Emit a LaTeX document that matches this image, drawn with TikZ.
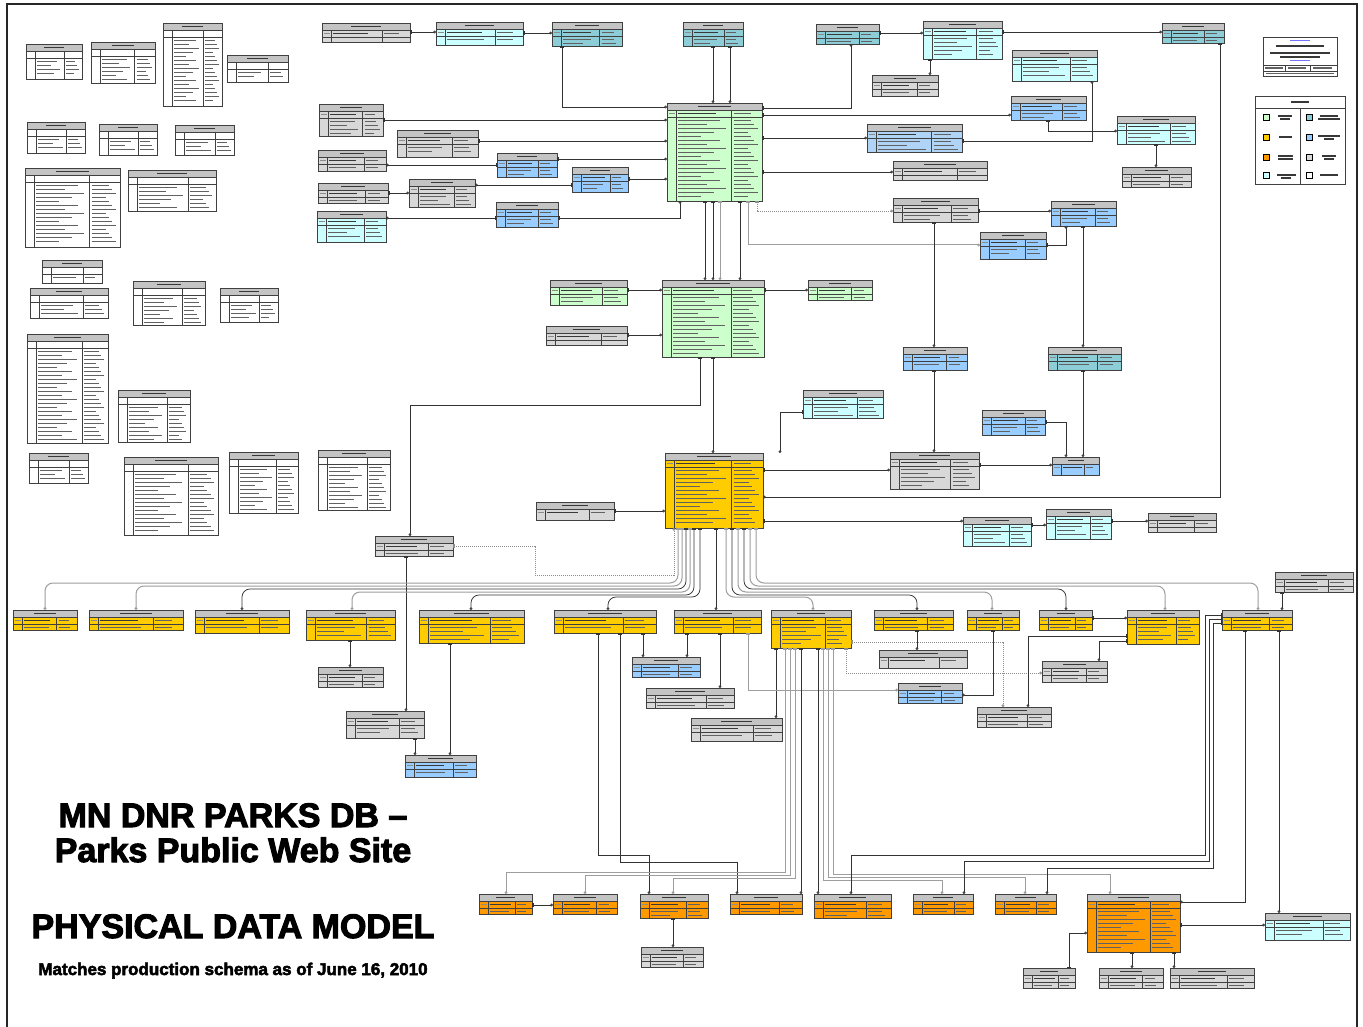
\documentclass[tikz,border=0pt]{standalone}
\usepackage{fontspec}
\setmainfont{Liberation Sans}
\newfontfamily\heavyfont{Liberation Sans}[BoldFeatures={FakeBold=3}]
\usetikzlibrary{arrows.meta}
\definecolor{chdr}{RGB}{196,196,196}
\definecolor{cgray}{RGB}{216,216,216}
\definecolor{cgreen}{RGB}{204,255,204}
\definecolor{cyel}{RGB}{255,204,0}
\definecolor{corg}{RGB}{255,153,0}
\definecolor{ccyan}{RGB}{204,255,255}
\definecolor{cteal}{RGB}{140,205,215}
\definecolor{cblue}{RGB}{153,204,255}
\definecolor{cbluel}{RGB}{175,212,245}
\tikzset{
  tab/.style={draw=black!75, line width=0.8pt, inner sep=0pt, outer sep=0pt},
  inl/.style={draw=black!75, line width=0.6pt},
  txt/.style={draw=black!62, line width=1.25pt},
  txtb/.style={draw=black!78, line width=1.25pt},
  txtk/.style={draw=black!45, line width=1pt},
  rel/.style={draw=black!80, line width=0.75pt, {Rectangle[length=1.5pt,width=3.5pt]}-{Circle[open,length=2.8pt]}},
  relg/.style={draw=black!38, line width=1pt, {Rectangle[length=1.5pt,width=3.5pt]}-{Circle[open,length=2.8pt]}},
  reld/.style={draw=black!45, line width=0.8pt, dash pattern=on 1pt off 1pt, {Rectangle[length=1.5pt,width=3.5pt]}-{Circle[open,length=2.8pt]}},
  frameline/.style={draw=black!85, line width=1.6pt},
  lgbox/.style={draw=black, line width=0.6pt, minimum size=6pt, inner sep=0pt}
}
\newcommand\ertab[7]{%
 \pgfmathsetmacro\erX{#2}%
 \pgfmathsetmacro\erY{#3}%
 \pgfmathsetmacro\erW{#4}%
 \pgfmathsetmacro\erH{#5}%
 \pgfmathsetmacro\erC{#2+0.68*#4}%
 \pgfmathtruncatemacro\erN{max(0,floor((#5-16)/4))}%
 \node[tab, fill=#6, anchor=north west, minimum width=#4pt, minimum height=#5pt] (#1) at (#2,#3) {};%
 \fill[chdr] (\erX,\erY) rectangle (\erX+\erW,\erY+7);%
 \draw[txtb] (\erX+0.33*\erW,\erY+3.6) -- (\erX+0.67*\erW,\erY+3.6);%
 \draw[inl] (\erX,\erY+7) -- (\erX+\erW,\erY+7);%
 \ifdim #5pt>18pt \draw[inl] (\erX,\erY+14) -- (\erX+\erW,\erY+14);\fi
 \draw[inl] (\erX+9,\erY+7) -- (\erX+9,\erY+\erH);%
 \draw[inl] (\erC,\erY+7) -- (\erC,\erY+\erH);%
 \ifnum#7=1 \draw[txtb] (\erX+11,\erY+10.5) -- (\erX+11+0.4*\erW,\erY+10.5);\draw[txtk] (\erX+1.5,\erY+10.5) -- (\erX+7.5,\erY+10.5);\draw[txt] (\erC+2,\erY+10.5) -- (\erC+0.2*\erW,\erY+10.5);\fi
 \ifnum\erN>0
 \foreach \i in {1,...,\erN}{%
   \pgfmathsetmacro\erL{(0.68*\erW-13)*(0.45+0.12*mod(3*\i,5))}%
   \pgfmathsetmacro\erM{(0.32*\erW-4)*(0.55+0.12*mod(\i,4))}%
   \draw[txt] (\erX+11,\erY+13.6+4*\i) -- ++(\erL,0);%
   \draw[txt] (\erC+2,\erY+13.6+4*\i) -- ++(\erM,0);%
 }\fi
 \draw[tab] (\erX,\erY) rectangle (\erX+\erW,\erY+\erH);%
}
\begin{document}
\begin{tikzpicture}[x=1pt,y=-1pt]
\useasboundingbox (0,0) rectangle (1363,1027);
\fill[white] (0,0) rectangle (1363,1027);
\draw[frameline] (7,1027) -- (7,4) -- (1357,4) -- (1357,1027);

% ---------- left column of code tables ----------
\ertab{w1}{26}{44}{56}{35}{white}{0}
\ertab{w2}{91}{42}{64}{41}{white}{0}
\ertab{w3}{163}{23}{59}{83}{white}{0}
\ertab{w4}{227}{55}{61}{27}{white}{0}
\ertab{w5}{27}{122}{58}{31}{white}{0}
\ertab{w6}{99}{124}{58}{31}{white}{0}
\ertab{w7}{175}{125}{59}{30}{white}{0}
\ertab{w8}{25}{168}{95}{79}{white}{0}
\ertab{w9}{128}{170}{88}{41}{white}{0}
\ertab{w10}{42}{260}{60}{23}{white}{0}
\ertab{w11}{30}{288}{78}{30}{white}{0}
\ertab{w12}{133}{281}{72}{44}{white}{0}
\ertab{w13}{220}{288}{58}{34}{white}{0}
\ertab{w14}{27}{334}{81}{109}{white}{0}
\ertab{w15}{118}{390}{72}{52}{white}{0}
\ertab{w16}{29}{453}{59}{30}{white}{0}
\ertab{w17}{124}{457}{94}{78}{white}{0}
\ertab{w18}{229}{452}{69}{61}{white}{0}
\ertab{w19}{318}{450}{72}{60}{white}{0}

% ---------- top middle ----------
\ertab{eft}{322}{23}{88}{19}{cgray}{1}
\ertab{ef}{436}{22}{87}{23}{ccyan}{1}
\ertab{puxef}{552}{22}{70}{24}{cteal}{1}
\ertab{puxpu}{683}{22}{60}{24}{cteal}{1}
\ertab{pu}{667}{103}{95}{98}{cgreen}{1}
\ertab{county}{319}{104}{64}{32}{cgray}{1}
\ertab{tour}{397}{130}{81}{27}{cgray}{1}
\ertab{fiscal}{318}{150}{68}{21}{cgray}{1}
\ertab{puxfis}{497}{153}{60}{24}{cblue}{1}
\ertab{puxsp}{572}{167}{56}{25}{cblue}{1}
\ertab{sptype}{318}{183}{70}{20}{cgray}{1}
\ertab{species}{409}{179}{66}{28}{cgray}{1}
\ertab{puxtt}{496}{202}{62}{25}{cblue}{1}
\ertab{monitor}{317}{211}{69}{31}{ccyan}{1}

% ---------- top right ----------
\ertab{puxgis}{816}{24}{63}{20}{cteal}{1}
\ertab{dimg}{923}{21}{79}{38}{ccyan}{1}
\ertab{imgtype}{872}{75}{66}{21}{cgray}{1}
\ertab{imgxam}{1162}{23}{62}{20}{cteal}{1}
\ertab{receq}{1012}{50}{85}{31}{ccyan}{1}
\ertab{puxleg}{1011}{96}{75}{24}{cblue}{1}
\ertab{puxrec}{867}{124}{95}{28}{cbluel}{1}
\ertab{legd}{1117}{116}{78}{28}{ccyan}{1}
\ertab{disttype}{1122}{167}{69}{20}{cgray}{1}
\ertab{water}{893}{161}{94}{19}{cgray}{1}
\ertab{putype}{893}{198}{85}{24}{cgray}{1}
\ertab{pufbr}{1051}{201}{65}{25}{cblue}{1}
\ertab{puft}{980}{232}{66}{27}{cblue}{1}

% ---------- middle ----------
\ertab{pra}{662}{280}{102}{77}{cgreen}{1}
\ertab{pral}{550}{280}{77}{25}{cgreen}{1}
\ertab{prar}{808}{280}{64}{20}{cgreen}{1}
\ertab{seas}{546}{326}{81}{19}{cgray}{1}
\ertab{puxrule}{903}{347}{64}{23}{cblue}{1}
\ertab{tealm}{1048}{347}{73}{23}{cteal}{1}
\ertab{cyanm}{803}{390}{80}{28}{ccyan}{1}
\ertab{bluem}{982}{410}{63}{25}{cblue}{1}
\ertab{am}{665}{453}{98}{75}{cyel}{1}
\ertab{amtype}{890}{452}{89}{37}{cgray}{1}
\ertab{blueam}{1052}{457}{47}{18}{cblue}{1}
\ertab{cyan1}{963}{517}{68}{29}{ccyan}{1}
\ertab{cyan2}{1046}{509}{65}{30}{ccyan}{1}
\ertab{gray1}{1148}{513}{68}{19}{cgray}{1}
\ertab{poll}{536}{502}{78}{18}{cgray}{1}
\ertab{seasav}{375}{536}{78}{20}{cgray}{1}

% ---------- amenity row ----------
\ertab{y1}{13}{610}{64}{20}{cyel}{1}
\ertab{y2}{89}{610}{94}{20}{cyel}{1}
\ertab{y3}{195}{610}{94}{23}{cyel}{1}
\ertab{y4}{306}{610}{89}{30}{cyel}{1}
\ertab{y5}{419}{610}{105}{33}{cyel}{1}
\ertab{y6}{554}{610}{102}{23}{cyel}{1}
\ertab{y7}{674}{610}{87}{23}{cyel}{1}
\ertab{y8}{771}{610}{80}{38}{cyel}{1}
\ertab{y9}{874}{610}{79}{20}{cyel}{1}
\ertab{y10}{967}{610}{52}{20}{cyel}{1}
\ertab{y11}{1039}{610}{53}{20}{cyel}{1}
\ertab{y12}{1127}{610}{72}{34}{cyel}{1}
\ertab{y13}{1222}{610}{70}{20}{cyel}{1}
\ertab{cgtype}{1275}{572}{78}{20}{cgray}{1}

% ---------- below amenity row ----------
\ertab{tourtype}{318}{667}{65}{20}{cgray}{1}
\ertab{trailuse}{346}{711}{78}{27}{cgray}{1}
\ertab{trailx}{405}{755}{71}{22}{cblue}{1}
\ertab{b1}{632}{657}{68}{20}{cblue}{1}
\ertab{g1}{646}{688}{88}{20}{cgray}{1}
\ertab{g2}{691}{718}{91}{23}{cgray}{1}
\ertab{g3}{879}{650}{88}{18}{cgray}{1}
\ertab{b2}{898}{683}{64}{20}{cblue}{1}
\ertab{g4}{1042}{661}{65}{21}{cgray}{1}
\ertab{g5}{977}{707}{74}{20}{cgray}{1}

% ---------- bottom row ----------
\ertab{o1}{479}{894}{53}{20}{corg}{1}
\ertab{o2}{553}{894}{64}{20}{corg}{1}
\ertab{o3}{640}{894}{68}{24}{corg}{1}
\ertab{o4}{730}{894}{72}{20}{corg}{1}
\ertab{o5}{814}{894}{77}{24}{corg}{1}
\ertab{o6}{913}{894}{60}{20}{corg}{1}
\ertab{o7}{995}{894}{61}{20}{corg}{1}
\ertab{camp}{1087}{894}{93}{58}{corg}{1}
\ertab{g6}{641}{947}{62}{20}{cgray}{1}
\ertab{cgsec}{1265}{913}{85}{27}{ccyan}{1}
\ertab{g7}{1023}{968}{52}{20}{cgray}{1}
\ertab{spur}{1099}{968}{64}{20}{cgray}{1}
\ertab{cts}{1170}{968}{84}{20}{cgray}{1}

% ---------- info box and legend ----------
\node[tab, fill=white, anchor=north west, minimum width=74pt, minimum height=39pt] (info) at (1263,37) {};
\draw[draw=blue!55, line width=1pt] (1290,41) -- (1310,41);
\draw[txtb] (1276,46) -- (1324,46);
\draw[txtb] (1270,53) -- (1330,53);
\draw[txtb] (1280,57) -- (1320,57);
\draw[draw=blue!55, line width=1pt] (1290,61) -- (1310,61);
\draw[inl] (1263,65) -- (1337,65);
\draw[inl] (1263,71) -- (1337,71);
\draw[inl] (1285,65) -- (1285,71);
\draw[inl] (1310,65) -- (1310,71);
\draw[txt] (1265,68) -- (1283,68);
\draw[txt] (1288,68) -- (1306,68);
\draw[txt] (1313,68) -- (1332,68);
\draw[txt] (1266,73.5) -- (1334,73.5);

\node[tab, fill=white, anchor=north west, minimum width=90pt, minimum height=88pt] (legend) at (1255,96) {};
\draw[inl] (1255,108) -- (1345,108);
\draw[inl] (1300,108) -- (1300,184);
\draw[txtb] (1291,102) -- (1309,102);
\node[lgbox, fill=cgreen] (lg1) at (1266,117) {};
\node[lgbox, fill=cyel] (lg2) at (1266,137) {};
\node[lgbox, fill=corg] (lg3) at (1266,157) {};
\node[lgbox, fill=ccyan] (lg4) at (1266,175) {};
\node[lgbox, fill=cteal] (lg5) at (1309,117) {};
\node[lgbox, fill=cblue] (lg6) at (1309,137) {};
\node[lgbox, fill=cgray] (lg7) at (1309,157) {};
\node[lgbox, fill=white] (lg8) at (1309,175) {};
\draw[txtb] (1278,116) -- (1292,116); \draw[txtb] (1280,119) -- (1290,119);
\draw[txtb] (1279,137) -- (1292,137);
\draw[txtb] (1278,156) -- (1293,156); \draw[txtb] (1278,159) -- (1293,159);
\draw[txtb] (1277,175) -- (1296,175); \draw[txtb] (1281,178) -- (1291,178);
\draw[txtb] (1320,116) -- (1338,116); \draw[txtb] (1318,119) -- (1340,119);
\draw[txtb] (1318,136) -- (1340,136); \draw[txtb] (1324,139) -- (1334,139);
\draw[txtb] (1322,156) -- (1336,156); \draw[txtb] (1324,159) -- (1334,159);
\draw[txtb] (1320,175) -- (1338,175);

% ---------- title ----------
\node[anchor=base, font=\heavyfont\bfseries\fontsize{34}{40}\selectfont] (t1) at (233,827) {MN DNR PARKS DB –};
\node[anchor=base, font=\heavyfont\bfseries\fontsize{34}{40}\selectfont] (t2) at (233,862) {Parks Public Web Site};
\node[anchor=base, font=\heavyfont\bfseries\fontsize{34}{40}\selectfont] (t3) at (233,938) {PHYSICAL DATA MODEL};
\node[anchor=base, font=\heavyfont\bfseries\fontsize{17}{20}\selectfont] (t4) at (233,975) {Matches production schema as of June 16, 2010};

% ---------- connectors: top ----------
\draw[rel] (eft.east |- 0,32) -- (ef.west |- 0,32);
\draw[rel] (ef.east |- 0,33) -- (puxef.west |- 0,33);
\draw[rel] (puxef.south -| 562,0) |- (pu.west |- 0,107);
\draw[rel] (puxpu.south -| 713,0) -- (pu.north -| 713,0);
\draw[rel] (puxpu.south -| 730,0) -- (pu.north -| 730,0);
\draw[rel] (county.east |- 0,120) -- (pu.west |- 0,120);
\draw[rel] (tour.east |- 0,141) -- (pu.west |- 0,141);
\draw[rel] (puxfis.east |- 0,159) -- (pu.west |- 0,159);
\draw[rel] (puxfis.west |- 0,165) -- (fiscal.east |- 0,165);
\draw[rel] (sptype.east |- 0,193) -- (species.west |- 0,193);
\draw[rel] (puxsp.west |- 0,185) -- (species.east |- 0,185);
\draw[rel] (puxsp.east |- 0,179) -- (pu.west |- 0,179);
\draw[rel] (puxtt.west |- 0,218) -- (monitor.east |- 0,218);
\draw[rel] (puxtt.east |- 0,218) -| (pu.south -| 680,0);
\draw[rel] (pu.east |- 0,108) -| (puxgis.south -| 851,0);
\draw[rel] (pu.east |- 0,115) -- (puxleg.west |- 0,115);
\draw[rel] (pu.east |- 0,138) -- (puxrec.west |- 0,138);
\draw[rel] (puxrec.east |- 0,141) -| (receq.south -| 1092,0);
\draw[rel] (puxleg.south -| 1048,0) |- (legd.west |- 0,131);
\draw[rel] (legd.south -| 1156,0) -- (disttype.north -| 1156,0);
\draw[rel] (puxgis.east |- 0,33) -- (dimg.west |- 0,33);
\draw[rel] (dimg.south -| 930,0) -- (imgtype.north -| 930,0);
\draw[rel] (dimg.east |- 0,32) -- (imgxam.west |- 0,32);
\draw[rel] (imgxam.south -| 1220,0) |- (am.east |- 0,497);
\draw[rel] (pu.east |- 0,172) -- (water.west |- 0,172);
\draw[reld] (pu.south -| 757,0) |- (putype.west |- 0,211);
\draw[relg] (pu.south -| 748,0) |- (puft.west |- 0,245);
\draw[rel] (putype.east |- 0,211) -- (pufbr.west |- 0,211);
\draw[rel] (puft.east |- 0,245) -| (pufbr.south -| 1066,0);
\draw[rel] (putype.south -| 934,0) -- (puxrule.north -| 934,0);
\draw[rel] (pufbr.south -| 1083,0) -- (tealm.north -| 1083,0);

% ---------- connectors: middle ----------
\draw[rel] (pu.south -| 705,0) -- (pra.north -| 705,0);
\draw[rel] (pu.south -| 713,0) -- (pra.north -| 713,0);
\draw[relg] (pu.south -| 720,0) -- (pra.north -| 720,0);
\draw[rel] (pu.south -| 740,0) -- (pra.north -| 740,0);
\draw[rel] (pral.east |- 0,290) -- (pra.west |- 0,290);
\draw[rel] (pra.east |- 0,290) -- (prar.west |- 0,290);
\draw[rel] (seas.east |- 0,335) -- (pra.west |- 0,335);
\draw[rel] (cyanm.west |- 0,412) -| (am.north -| 780,0);
\draw[rel] (pra.south -| 713,0) -- (am.north -| 713,0);
\draw[rel] (pra.south -| 700,0) |- (410,405) -- (seasav.north -| 410,0);
\draw[rel] (seasav.south -| 406,0) -- (trailuse.north -| 406,0);
\draw[reld] (seasav.east |- 0,546) -- (535,546) |- (674,575) -- (am.south -| 674,0);
\draw[rel] (puxrule.south -| 934,0) -- (amtype.north -| 934,0);
\draw[rel] (tealm.south -| 1083,0) -- (blueam.north -| 1083,0);
\draw[rel] (bluem.east |- 0,422) -| (blueam.north -| 1066,0);
\draw[rel] (am.east |- 0,470) -- (amtype.west |- 0,470);
\draw[rel] (amtype.east |- 0,465) -- (blueam.west |- 0,465);
\draw[rel] (am.east |- 0,521) -- (cyan1.west |- 0,521);
\draw[rel] (cyan1.east |- 0,525) -- (cyan2.west |- 0,525);
\draw[rel] (cyan2.east |- 0,521) -- (gray1.west |- 0,521);
\draw[rel] (poll.east |- 0,511) -- (am.west |- 0,511);

% ---------- amenity buses ----------
\draw[relg, rounded corners=8pt] (am.south -| 678,0) -- (678,583) -- (45,583) -- (y1.north -| 45,0);
\draw[relg, rounded corners=8pt] (am.south -| 682,0) -- (682,586) -- (136,586) -- (y2.north -| 136,0);
\draw[rel, rounded corners=8pt] (am.south -| 686,0) -- (686,589) -- (242,589) -- (y3.north -| 242,0);
\draw[relg, rounded corners=8pt] (am.south -| 690,0) -- (690,592) -- (352,592) -- (y4.north -| 352,0);
\draw[rel, rounded corners=8pt] (am.south -| 694,0) -- (694,595) -- (471,595) -- (y5.north -| 471,0);
\draw[rel, rounded corners=8pt] (am.south -| 700,0) -- (700,597) -- (608,597) -- (y6.north -| 608,0);
\draw[rel] (am.south -| 716,0) -- (y7.north -| 716,0);
\draw[relg, rounded corners=8pt] (am.south -| 726,0) -- (726,597) -- (813,597) -- (y8.north -| 813,0);
\draw[rel, rounded corners=8pt] (am.south -| 732,0) -- (732,595) -- (917,595) -- (y9.north -| 917,0);
\draw[relg, rounded corners=8pt] (am.south -| 738,0) -- (738,592) -- (992,592) -- (y10.north -| 992,0);
\draw[rel, rounded corners=8pt] (am.south -| 744,0) -- (744,589) -- (1066,589) -- (y11.north -| 1066,0);
\draw[relg, rounded corners=8pt] (am.south -| 750,0) -- (750,586) -- (1165,586) -- (y12.north -| 1165,0);
\draw[relg, rounded corners=8pt] (am.south -| 756,0) -- (756,583) -- (1258,583) -- (y13.north -| 1258,0);

% ---------- connectors: lower ----------
\draw[rel] (y4.south -| 350,0) -- (tourtype.north -| 350,0);
\draw[rel] (y5.south -| 450,0) -- (trailx.north -| 450,0);
\draw[rel] (trailuse.south -| 415,0) -- (trailx.north -| 415,0);
\draw[rel] (y6.south -| 643,0) -- (b1.north -| 643,0);
\draw[rel] (y7.south -| 687,0) -- (b1.north -| 687,0);
\draw[rel] (y7.south -| 720,0) -- (g1.north -| 720,0);
\draw[rel] (y8.south -| 776,0) -- (g2.north -| 776,0);
\draw[relg] (y7.south -| 748,0) |- (b2.west |- 0,690);
\draw[reld] (y8.east |- 0,642) -| (g5.north -| 1003,0);
\draw[reld] (y8.south -| 846,0) |- (g4.west |- 0,673);
\draw[rel] (y9.south -| 917,0) -- (g3.north -| 917,0);
\draw[rel] (y10.south -| 993,0) |- (b2.east |- 0,695);
\draw[rel] (y12.west |- 0,636) -| (g5.north -| 1028,0);
\draw[rel] (y11.east |- 0,618) -- (y12.west |- 0,618);
\draw[rel] (y12.west |- 0,641) -| (g4.north -| 1099,0);
\draw[rel] (cgtype.south -| 1282,0) -- (y13.north -| 1282,0);

% ---------- connectors: bottom ----------
\draw[rel] (y6.south -| 598,0) |- (649,855) -- (o3.north -| 649,0);
\draw[rel] (y6.south -| 620,0) |- (737,862) -- (o4.north -| 737,0);
\draw[relg] (y8.south -| 785,0) |- (506,872) -- (o1.north -| 506,0);
\draw[relg] (y8.south -| 790,0) |- (585,875) -- (o2.north -| 585,0);
\draw[relg] (y8.south -| 795,0) |- (673,878) -- (o3.north -| 673,0);
\draw[rel] (y8.south -| 801,0) -- (o4.north -| 801,0);
\draw[rel] (y8.south -| 818,0) -- (o5.north -| 818,0);
\draw[relg] (y8.south -| 823,0) |- (942,880) -- (o6.north -| 942,0);
\draw[relg] (y8.south -| 828,0) |- (1025,877) -- (o7.north -| 1025,0);
\draw[relg] (y8.south -| 833,0) |- (1110,874) -- (camp.north -| 1110,0);
\draw[rel] (y13.west |- 0,615) -- (1205,615) |- (851,855) -- (o5.north -| 851,0);
\draw[rel] (y13.west |- 0,619) -- (1209,619) |- (964,861) -- (o6.north -| 964,0);
\draw[rel] (y13.west |- 0,623) -- (1213,623) |- (1047,868) -- (o7.north -| 1047,0);
\draw[rel] (y13.south -| 1245,0) |- (camp.east |- 0,902);
\draw[rel] (y13.south -| 1279,0) -- (cgsec.north -| 1279,0);
\draw[rel] (camp.east |- 0,925) -- (cgsec.west |- 0,925);
\draw[rel] (camp.south -| 1132,0) -- (spur.north -| 1132,0);
\draw[rel] (camp.south -| 1174,0) -- (cts.north -| 1174,0);
\draw[rel] (g7.north -| 1069,0) |- (camp.west |- 0,933);
\draw[rel] (o3.south -| 673,0) -- (g6.north -| 673,0);
\draw[rel] (o1.east |- 0,905) -- (o2.west |- 0,905);
\end{tikzpicture}
\end{document}
